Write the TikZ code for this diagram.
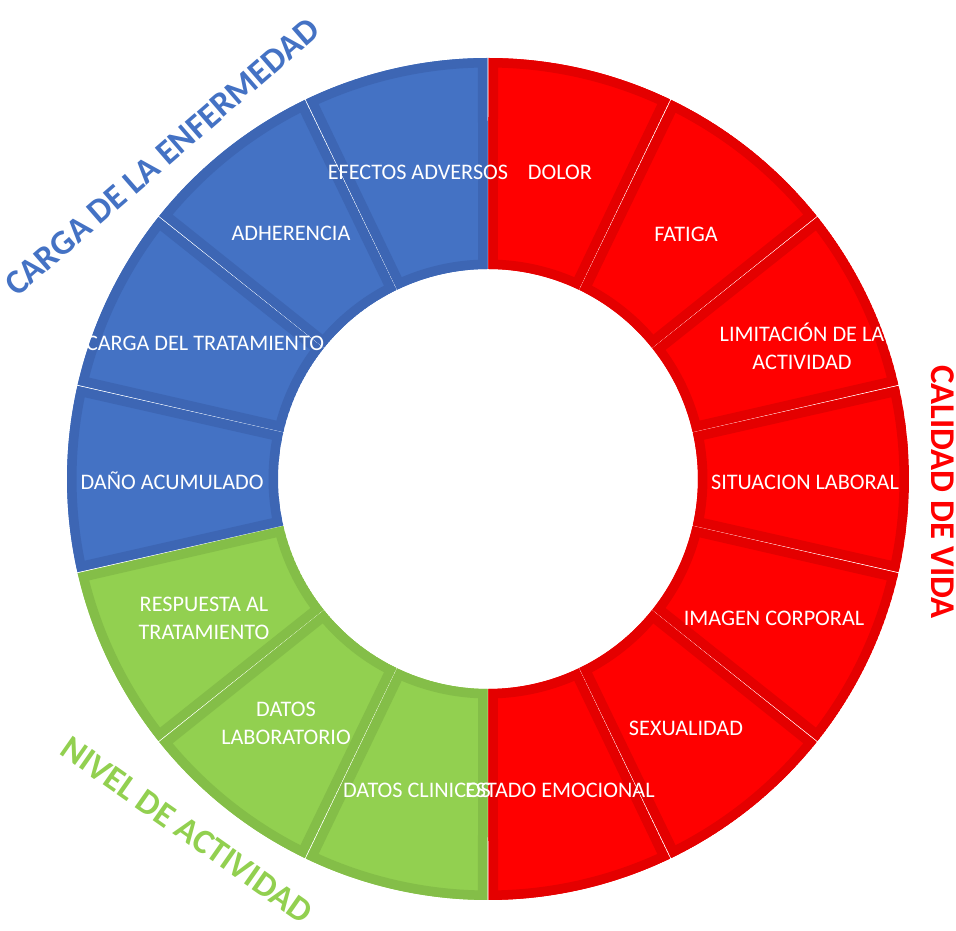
\documentclass[tikz,border=0pt]{standalone}
\usepackage{fontspec}
\setmainfont{Carlito}
\usepackage{xcolor}
\definecolor{segblue}{RGB}{68,114,196}
\definecolor{segblueline}{RGB}{61,102,180}
\definecolor{segred}{RGB}{255,0,0}
\definecolor{segredline}{RGB}{228,0,0}
\definecolor{seggreen}{RGB}{146,208,80}
\definecolor{seggreenline}{RGB}{132,190,72}

% one piece of the ring: start angle, end angle, fill, border
\newcommand{\ringpiece}[4]{%
  \begin{scope}
    \clip (#1-0.08:421) arc[start angle=#1-0.08, end angle=#2+0.08, radius=421]
      -- (#2+0.08:210) arc[start angle=#2+0.08, end angle=#1-0.08, radius=210] -- cycle;
    \draw[fill=#3, draw=#4, line width=0.475cm] (#1-0.08:421) arc[start angle=#1-0.08, end angle=#2+0.08, radius=421]
      -- (#2+0.08:210) arc[start angle=#2+0.08, end angle=#1-0.08, radius=210] -- cycle;
  \end{scope}}

\tikzset{
  seglabel/.style={text=white, font=\fontsize{15.8}{20}\selectfont, align=center, inner sep=0pt},
  grouplabel/.style={font=\bfseries\fontsize{24.7}{30}\selectfont, inner sep=0pt}
}

\begin{document}
\begin{tikzpicture}[x=0.025cm, y=0.025cm]
\useasboundingbox (-488,-452) rectangle (468,479);

% calidad de vida
\ringpiece{90}{64.2857}{segred}{segredline}
\ringpiece{64.2857}{38.5714}{segred}{segredline}
\ringpiece{38.5714}{12.8571}{segred}{segredline}
\ringpiece{12.8571}{-12.8571}{segred}{segredline}
\ringpiece{-12.8571}{-38.5714}{segred}{segredline}
\ringpiece{-38.5714}{-64.2857}{segred}{segredline}
\ringpiece{-64.2857}{-90}{segred}{segredline}
% nivel de actividad
\ringpiece{270}{244.2857}{seggreen}{seggreenline}
\ringpiece{244.2857}{218.5714}{seggreen}{seggreenline}
\ringpiece{218.5714}{192.8571}{seggreen}{seggreenline}
% carga de la enfermedad
\ringpiece{192.8571}{167.1429}{segblue}{segblueline}
\ringpiece{167.1429}{141.4286}{segblue}{segblueline}
\ringpiece{141.4286}{115.7143}{segblue}{segblueline}
\ringpiece{115.7143}{90}{segblue}{segblueline}

\node[seglabel] (dolor) at (72,307) {DOLOR};
\node[seglabel] (fatiga) at (198,245) {FATIGA};
\node[seglabel] (limitacion) at (314,133) {LIMITACIÓN DE LA\\ACTIVIDAD};
\node[seglabel] (situacion) at (317,-3) {SITUACION LABORAL};
\node[seglabel] (imagen) at (286,-139) {IMAGEN CORPORAL};
\node[seglabel] (sexualidad) at (198,-249) {SEXUALIDAD};
\node[seglabel] (estado) at (72,-311) {ESTADO EMOCIONAL};
\node[seglabel] (clinicos) at (-71,-311) {DATOS CLINICOS};
\node[seglabel] (laboratorio) at (-202,-244) {DATOS\\LABORATORIO};
\node[seglabel] (respuesta) at (-284,-139) {RESPUESTA AL\\TRATAMIENTO};
\node[seglabel] (dano) at (-316,-2) {DAÑO ACUMULADO};
\node[seglabel] (cargatrat) at (-283,136) {CARGA DEL TRATAMIENTO};
\node[seglabel] (adherencia) at (-197,246) {ADHERENCIA};
\node[seglabel] (efectos) at (-70,307) {EFECTOS ADVERSOS};

\node[grouplabel, text=segred, rotate=-90] (calidad) at (455,-13) {CALIDAD DE VIDA};
\node[grouplabel, text=segblue, rotate=41] (carga) at (-326,322) {CARGA DE LA ENFERMEDAD};
\node[grouplabel, text=seggreen, rotate=-35] (nivel) at (-301,-351) {NIVEL DE ACTIVIDAD};
\end{tikzpicture}
\end{document}
